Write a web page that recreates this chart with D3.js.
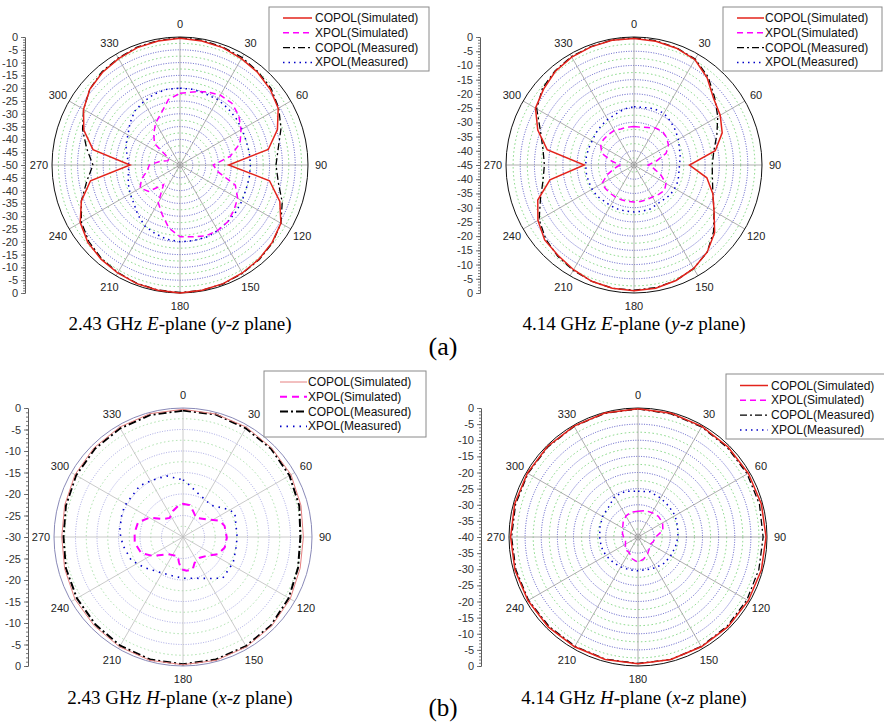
<!DOCTYPE html>
<html>
<head>
<meta charset="utf-8">
<script src="https://cdn.jsdelivr.net/npm/d3@7"></script>
<style>
  body { margin: 0; background: #fff; }
  svg text { font-family: "Liberation Sans", Arial, sans-serif; }
  svg text.cap { font-family: "Liberation Serif", "Times New Roman", serif; }
</style>
</head>
<body>
<svg id="fig" width="884" height="724"></svg>
<script>
// ---- data (angles in degrees, values in dB) ----
const angles10 = [0,10,20,30,40,50,60,70,80,90,100,110,120,130,140,150,160,170,180,190,200,210,220,230,240,250,260,270,280,290,300,310,320,330,340,350];
const angles15 = [0,15,30,45,60,75,90,105,120,135,150,165,180,195,210,225,240,255,270,285,300,315,330,345];
const legendLabels = ["COPOL(Simulated)", "XPOL(Simulated)", "COPOL(Measured)", "XPOL(Measured)"];
const angleTicks = [0,30,60,90,120,150,180,210,240,270,300,330];

// 2.43 GHz E-plane
const copolSimE243  = [-0.5,-0.8,-1.2,-2,-2.8,-4,-5.7,-9.5,-15,-31,-14.5,-8.5,-4.5,-3,-2,-1.3,-0.7,-0.3,0,-0.3,-0.7,-1.3,-2,-3,-5,-9,-14.5,-30.5,-15.5,-10,-6.5,-4,-2.8,-2,-1.2,-0.8];
const copolMeasE243 = [-0.3,-0.5,-1,-1.5,-2.5,-3.5,-5.5,-8,-11,-12.5,-11,-7.5,-4.5,-2.8,-1.8,-1.2,-0.6,-0.3,-0.2,-0.4,-0.8,-1.5,-2.3,-3.5,-5.5,-9,-13,-16,-13,-9.5,-6.5,-4,-2.5,-1.8,-1,-0.6];
const xpolSimE243   = [-22,-21,-19.5,-18.5,-18.5,-20,-22.5,-25,-30,-37,-35,-27,-24,-22.5,-21,-20.5,-20.5,-21.5,-22,-25,-29.5,-33,-40,-34,-32,-34,-37,-38,-42,-45,-45,-37,-34,-31,-28.5,-24];
const xpolMeasE243  = [-20,-20,-20.5,-20.5,-21,-21.5,-22,-22.5,-22.5,-22.5,-22.5,-22.5,-22,-21.5,-21,-20.5,-20,-20,-20,-20.5,-21.5,-22.5,-24.5,-26.5,-27.5,-28.5,-29.5,-30,-29,-27.5,-26.5,-24.5,-22.5,-21.5,-20.5,-20];

// 4.14 GHz E-plane
const copolSimE414  = [-0.5,-0.8,-1.3,-2.2,-5,-8.5,-10,-12,-16,-25.5,-19,-15.5,-12.5,-8,-5,-3,-1.8,-1,-0.8,-1,-1.5,-2.5,-3.5,-4,-6,-9,-15,-27.5,-14,-9,-5,-3.5,-2,-1.2,-0.8,-0.5];
const copolMeasE414 = [-0.3,-0.6,-1.2,-2,-4.5,-8,-11,-14,-16.5,-17.5,-17,-15.5,-12.5,-8.5,-5,-3,-1.8,-1.2,-1,-1,-1.5,-2.2,-3.2,-4.5,-6.5,-10,-12.5,-13.5,-12.5,-10,-5.5,-3,-1.8,-1,-0.7,-0.4];
const xpolSimE414   = [-31.5,-31.5,-31,-30,-29.5,-30,-31,-33,-37,-40,-38,-35,-32,-31,-31.5,-32,-32,-32,-32,-32,-32,-32,-32,-32,-32,-35,-38,-40,-37,-33,-31.5,-31,-31,-31,-31.5,-31.5];
const xpolMeasE414  = [-24.5,-24.5,-24,-24,-25,-26,-27,-28,-28.5,-29,-29,-28.5,-28.5,-28.5,-29,-29,-28.5,-28.5,-28.5,-28.5,-28.5,-28.5,-28.5,-28,-28,-28,-28,-28,-28,-28,-28,-27.5,-27,-26.5,-26,-25];

// 2.43 GHz H-plane
const copolSimH243  = [-0.3,-0.4,-0.5,-0.8,-1,-1.6,-2,-1.8,-1.2,-0.8,-0.5,-0.3,-0.3,-0.3,-0.5,-0.8,-1,-1.5,-1.8,-1.5,-1,-0.7,-0.5,-0.3];
const copolMeasH243 = [-0.6,-0.5,-0.8,-1,-1.4,-2,-2.7,-2.3,-1.6,-1,-0.7,-0.5,-0.4,-0.5,-0.8,-1.2,-1.5,-1.8,-2.2,-1.8,-1.3,-1,-0.8,-0.6];
const xpolSimH243Ang  = [0,12,21,35,53,66,75,91,104,116,129,141,156,163,174,183,189,195,221,238,249,263,275,288,300,312,325,339,351];
const xpolSimH243     = [-22.3,-22.4,-23.5,-24.6,-23.2,-20.7,-20,-19.8,-20,-20.9,-23,-23.8,-23.4,-22.2,-22.1,-22.5,-24,-25.4,-24.7,-21.7,-19.6,-18.7,-18.7,-19,-21,-23.8,-24.6,-23.5,-22.7];
const xpolMeasH243Ang = [0,7,17,30,42,57,65,75,90,103,117,136,147,162,180,199,218,231,246,262,275,289,298,320,332,345];
const xpolMeasH243    = [-16.7,-17.8,-19.1,-19.9,-20.1,-18,-16.7,-17.3,-17.4,-17.4,-16.9,-16.7,-18.5,-19.9,-20.4,-20.6,-19.9,-18.6,-16.8,-15.9,-15.2,-14.9,-14.6,-14.4,-15,-15.3];

// 4.14 GHz H-plane
const copolSimH414  = [-0.2,-0.3,-0.4,-0.5,-0.5,-0.4,-0.3,-0.4,-0.5,-0.6,-0.7,-0.7,-0.7,-0.7,-0.7,-0.6,-0.6,-0.5,-0.5,-0.4,-0.4,-0.3,-0.3,-0.2];
const copolMeasH414 = [-0.3,-0.5,-0.6,-0.8,-0.9,-1,-1.2,-1.2,-1,-0.9,-0.8,-0.7,-0.8,-0.8,-0.9,-0.9,-0.8,-0.8,-0.8,-0.7,-0.6,-0.5,-0.4,-0.3];
const xpolSimH414   = [-32,-31.5,-31.3,-31,-31.2,-32,-34.5,-35,-35.5,-35,-34,-33,-32.2,-33,-34.5,-34.5,-35.5,-36,-35.5,-35,-34.5,-33.5,-32.5,-32];
const xpolMeasH414  = [-25.8,-25.5,-26,-26.5,-26.7,-27.3,-27.6,-28,-28.3,-28.5,-29,-29.5,-29.5,-29.5,-29.3,-29,-28.5,-28.2,-28.1,-27.8,-27.3,-27,-25.5,-25.3];

// ---- styles ----
const styles = {
  copolSim:  { stroke: "#e3231b", width: 1.5, dash: null },
  xpolSim:   { stroke: "#ff00ff", width: 1.5, dash: "6,4" },
  copolMeas: { stroke: "#000",    width: 1.3, dash: "7,3,2,3" },
  xpolMeas:  { stroke: "#0000c8", width: 1.5, dash: "1.5,4" }
};
const stylesH243 = {
  copolSim:  { stroke: "#e68080", width: 1,   dash: null },
  xpolSim:   { stroke: "#ff00ff", width: 2,   dash: "7,5" },
  copolMeas: { stroke: "#000",    width: 2,   dash: "8,3,2,3" },
  xpolMeas:  { stroke: "#0000c8", width: 1.6, dash: "1.5,5" }
};

const panels = [
  { cx: 180, cy: 165, R: 128, min: -50, axisX: 25, st: styles, light: false,
    legend: { x: 269, y: 7, w: 160, h: 64, lx1: 283, lx2: 312, tx: 315, y0: 18 },
    caption: { x: 180, y: 330, f: "2.43", p: "E", a: "y", b: "z" },
    series: [
      { key: "xpolMeas", a: angles10, v: xpolMeasE243 },
      { key: "xpolSim", a: angles10, v: xpolSimE243 },
      { key: "copolMeas", a: angles10, v: copolMeasE243 },
      { key: "copolSim", a: angles10, v: copolSimE243 } ] },
  { cx: 634, cy: 165, R: 128, min: -45, axisX: 480, st: styles, light: false,
    legend: { x: 723, y: 7, w: 159, h: 64, lx1: 737, lx2: 764, tx: 765, y0: 18 },
    caption: { x: 634, y: 330, f: "4.14", p: "E", a: "y", b: "z" },
    series: [
      { key: "xpolMeas", a: angles10, v: xpolMeasE414 },
      { key: "xpolSim", a: angles10, v: xpolSimE414 },
      { key: "copolMeas", a: angles10, v: copolMeasE414 },
      { key: "copolSim", a: angles10, v: copolSimE414 } ] },
  { cx: 183, cy: 537, R: 129, min: -30, axisX: 28, st: stylesH243, light: true,
    legend: { x: 264, y: 371, w: 162, h: 66, lx1: 280, lx2: 307, tx: 308, y0: 382 },
    caption: { x: 180, y: 704, f: "2.43", p: "H", a: "x", b: "z" },
    series: [
      { key: "xpolMeas", a: xpolMeasH243Ang, v: xpolMeasH243 },
      { key: "xpolSim", a: xpolSimH243Ang, v: xpolSimH243 },
      { key: "copolMeas", a: angles15, v: copolMeasH243 },
      { key: "copolSim", a: angles15, v: copolSimH243 } ] },
  { cx: 638, cy: 537, R: 129, min: -40, axisX: 481, st: styles, light: false,
    legend: { x: 726, y: 374, w: 170, h: 65, lx1: 740, lx2: 768, tx: 771, y0: 385.5 },
    caption: { x: 634, y: 704, f: "4.14", p: "H", a: "x", b: "z" },
    series: [
      { key: "xpolMeas", a: angles15, v: xpolMeasH414 },
      { key: "xpolSim", a: angles15, v: xpolSimH414 },
      { key: "copolMeas", a: angles15, v: copolMeasH414 },
      { key: "copolSim", a: angles15, v: copolSimH414 } ] }
];

const svg = d3.select("#fig");
svg.append("rect").attr("width", 884).attr("height", 724).attr("fill", "#fff");

function drawPanel(p) {
  const rs = d3.scaleLinear().domain([p.min, 0]).range([0, p.R]);
  const g = svg.append("g").attr("transform", `translate(${p.cx},${p.cy})`);

  // grid rings every 2.5 dB, majors (every 5) blue, minors green
  const rings = d3.range(p.min + 2.5, -0.1, 2.5);
  g.selectAll("circle.ring").data(rings).enter().append("circle")
    .attr("r", d => rs(d))
    .attr("fill", "none")
    .attr("stroke", d => (Math.round(d) % 5 === 0 ? (p.light ? "#9090dc" : "#3030b8") : (p.light ? "#88d488" : "#4cc44c")))
    .attr("stroke-width", d => (Math.round(d) % 5 === 0 ? 0.8 : 0.7))
    .attr("stroke-dasharray", d => (Math.round(d) % 5 === 0 ? "1,1.5" : "1.5,2.5"));

  // spokes
  g.selectAll("line.spoke").data(angleTicks).enter().append("line")
    .attr("x1", 0).attr("y1", 0)
    .attr("x2", d => p.R * Math.sin(d * Math.PI / 180))
    .attr("y2", d => -p.R * Math.cos(d * Math.PI / 180))
    .attr("stroke", p.light ? "#bdbdbd" : "#999").attr("stroke-width", 0.8);

  if (!p.light) g.append("circle").attr("r", 3).attr("fill", "none").attr("stroke", "#999").attr("stroke-width", 0.8);

  // outer circle
  g.append("circle").attr("r", p.R).attr("fill", "none")
    .attr("stroke", p.light ? "#8a8ab8" : "#111").attr("stroke-width", 1);

  // angle labels
  g.selectAll("text.ang").data(angleTicks).enter().append("text")
    .attr("x", d => (p.R + 13) * Math.sin(d * Math.PI / 180))
    .attr("y", d => -(p.R + 13) * Math.cos(d * Math.PI / 180))
    .attr("text-anchor", "middle").attr("dominant-baseline", "central")
    .attr("font-size", 11).attr("fill", "#222")
    .text(d => d);

  // curves
  const line = d3.lineRadial()
    .angle(d => d[0] * Math.PI / 180)
    .radius(d => rs(d[1]))
    .curve(d3.curveLinearClosed);
  p.series.forEach(s => {
    const st = p.st[s.key];
    g.append("path")
      .datum(d3.zip(s.a, s.v))
      .attr("d", line)
      .attr("fill", "none")
      .attr("stroke", st.stroke)
      .attr("stroke-width", st.width)
      .attr("stroke-dasharray", st.dash);
  });

  // left dB axis: 0 at top, min at centre, 0 at bottom
  const topScale = d3.scaleLinear().domain([0, p.min]).range([p.cy - p.R, p.cy]);
  const botScale = d3.scaleLinear().domain([p.min, 0]).range([p.cy, p.cy + p.R]);
  const majors = d3.range(0, p.min - 0.1, -5);
  const minors = d3.range(0, p.min - 0.1, -1);
  [[topScale, majors], [botScale, majors.filter(d => d !== p.min)]].forEach(([sc, tv]) => {
    const minorAx = svg.append("g").attr("transform", `translate(${p.axisX},0)`)
      .call(d3.axisLeft(sc).tickValues(minors).tickSize(2).tickSizeOuter(0).tickFormat(""));
    const ax = svg.append("g").attr("transform", `translate(${p.axisX},0)`)
      .call(d3.axisLeft(sc).tickValues(tv).tickSize(4).tickSizeOuter(0).tickPadding(3).tickFormat(d => String(d)));
    [minorAx, ax].forEach(a => {
      a.selectAll("path, line").attr("stroke", "#555").attr("stroke-width", 0.8);
      a.selectAll("text").attr("font-size", 11).attr("fill", "#333")
        .attr("font-family", '"Liberation Sans", Arial, sans-serif');
    });
  });

  // legend
  const L = p.legend;
  const lg = svg.append("g");
  lg.append("rect").attr("x", L.x).attr("y", L.y).attr("width", L.w).attr("height", L.h)
    .attr("fill", "#fff").attr("stroke", "#8a8a8a").attr("stroke-width", 1);
  const order = ["copolSim", "xpolSim", "copolMeas", "xpolMeas"];
  order.forEach((k, i) => {
    const st = p.st[k];
    const y = L.y0 + i * 14.8;
    lg.append("line").attr("x1", L.lx1).attr("x2", L.lx2).attr("y1", y).attr("y2", y)
      .attr("stroke", st.stroke).attr("stroke-width", st.width).attr("stroke-dasharray", st.dash);
    lg.append("text").attr("x", L.tx).attr("y", y).attr("dominant-baseline", "central")
      .attr("font-size", 12).attr("fill", "#111").text(legendLabels[i]);
  });

  // caption
  const C = p.caption;
  const t = svg.append("text").attr("class", "cap").attr("x", C.x).attr("y", C.y)
    .attr("text-anchor", "middle").attr("font-size", 19).attr("fill", "#000");
  t.append("tspan").text(C.f + " GHz ");
  t.append("tspan").attr("font-style", "italic").text(C.p);
  t.append("tspan").text("-plane (");
  t.append("tspan").attr("font-style", "italic").text(C.a);
  t.append("tspan").text("-");
  t.append("tspan").attr("font-style", "italic").text(C.b);
  t.append("tspan").text(" plane)");
}

panels.forEach(drawPanel);

svg.append("text").attr("class", "cap").attr("x", 443).attr("y", 355)
  .attr("text-anchor", "middle").attr("font-size", 26).text("(a)");
svg.append("text").attr("class", "cap").attr("x", 443).attr("y", 716)
  .attr("text-anchor", "middle").attr("font-size", 25).text("(b)");
</script>
</body>
</html>
